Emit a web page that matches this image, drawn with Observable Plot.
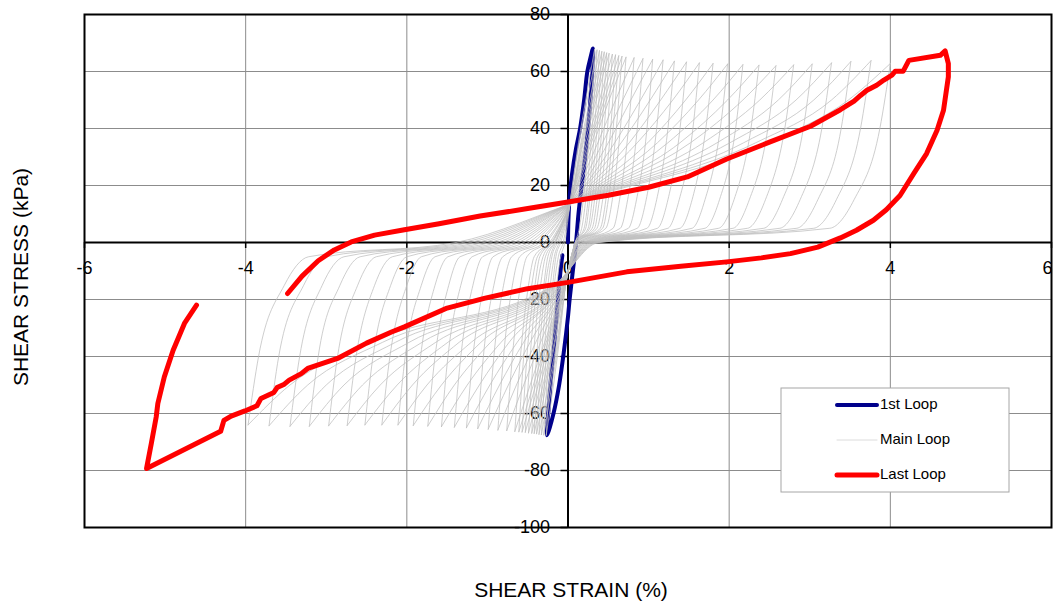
<!DOCTYPE html>
<html><head><meta charset="utf-8">
<script src="https://cdn.jsdelivr.net/npm/d3@7"></script>
<script src="https://cdn.jsdelivr.net/npm/@observablehq/plot@0.6"></script>
<style>
html,body{margin:0;padding:0;background:#fff;}
#chart{width:1053px;height:605px;}
</style></head><body><div id="chart"></div>
<script>
// ---- axis / text ----
const xTicks = [-6, -4, -2, 0, 2, 4, 6];
const yTicks = [-100, -80, -60, -40, -20, 0, 20, 40, 60, 80];
const xTitle = "SHEAR STRAIN (%)";
const yTitle = "SHEAR STRESS (kPa)";
const seriesNames = ["1st Loop", "Main Loop", "Last Loop"];

// ---- 1st loop ----
const firstLoopStrain = [0.00, 0.005, 0.02, 0.05, 0.10, 0.15, 0.20, 0.24, 0.28, 0.31,
  0.30, 0.27, 0.22, 0.17, 0.13, 0.10, 0.06, 0.02, 0.00, -0.05, -0.11, -0.18, -0.26,
  -0.24, -0.21, -0.17, -0.13, -0.10, -0.07];
const firstLoopStress = [0, 8, 16, 24, 33, 40, 50, 60, 65, 68.1,
  60, 47, 32, 20, 10, 0, -10, -20, -26, -38, -50, -60, -67.6,
  -58, -47, -35, -22, -12, -4.5];

// ---- main loops (one entry per cycle) ----
const mainPeakStrainPos = [0.33,0.36,0.39,0.42,0.45,0.48,0.51,0.55,0.59,0.63,0.67,0.72,0.82,0.93,1.05,1.18,1.32,1.47,1.63,1.80,1.98,2.17,2.37,2.58,2.80,3.03,3.27,3.51,3.76,4.00];
const mainPeakStressPos = [67.8,67.5,67.3,67,66.8,66.5,66.3,66,65.8,65.5,65.3,65,64.8,64.5,64.2,64,63.6,63.3,63,62.8,62.6,62.4,62.2,62,62.3,62.6,63,63.5,63.8,62.8];
const mainPeakStrainNeg = [-0.27,-0.30,-0.33,-0.36,-0.39,-0.42,-0.45,-0.49,-0.53,-0.57,-0.61,-0.66,-0.76,-0.87,-0.99,-1.12,-1.26,-1.41,-1.57,-1.74,-1.92,-2.11,-2.31,-2.52,-2.74,-2.97,-3.21,-3.45,-3.71,-3.97];
const mainPeakStressNeg = [-67.6,-67.5,-67.4,-67.3,-67.1,-67,-66.9,-66.8,-66.6,-66.5,-66.4,-66.3,-66,-65.8,-65.5,-65.3,-65,-64.8,-64.6,-64.4,-64.2,-64,-64,-64,-64.2,-64.3,-64.5,-64.5,-64.3,-64];
// loading branch: strain at these stress levels
const mainUpStress = [-40, -15, -5, 0, 15, 35, 50];
const mainUpStrain = [
  [-0.21,-0.14,-0.09,-0.04,0.03,0.13,0.22],
  [-0.24,-0.17,-0.12,-0.06,0.03,0.14,0.24],
  [-0.27,-0.19,-0.15,-0.09,0.04,0.16,0.27],
  [-0.30,-0.22,-0.17,-0.11,0.04,0.17,0.29],
  [-0.33,-0.25,-0.20,-0.13,0.04,0.18,0.31],
  [-0.36,-0.28,-0.22,-0.15,0.04,0.19,0.33],
  [-0.39,-0.30,-0.25,-0.16,0.04,0.21,0.35],
  [-0.43,-0.34,-0.28,-0.17,0.04,0.23,0.39],
  [-0.47,-0.38,-0.31,-0.19,0.04,0.25,0.42],
  [-0.51,-0.41,-0.35,-0.20,0.05,0.27,0.45],
  [-0.55,-0.45,-0.38,-0.21,0.05,0.29,0.48],
  [-0.59,-0.49,-0.42,-0.23,0.05,0.32,0.51],
  [-0.69,-0.59,-0.51,-0.27,0.05,0.37,0.59],
  [-0.80,-0.69,-0.60,-0.30,0.06,0.43,0.68],
  [-0.92,-0.80,-0.70,-0.35,0.06,0.50,0.78],
  [-1.05,-0.92,-0.81,-0.39,0.07,0.58,0.90],
  [-1.18,-1.04,-0.93,-0.44,0.07,0.66,1.02],
  [-1.33,-1.18,-1.06,-0.49,0.08,0.76,1.15],
  [-1.49,-1.33,-1.19,-0.55,0.09,0.86,1.30],
  [-1.65,-1.48,-1.34,-0.61,0.09,0.99,1.46],
  [-1.83,-1.65,-1.49,-0.67,0.10,1.11,1.62],
  [-2.02,-1.82,-1.65,-0.74,0.11,1.24,1.80],
  [-2.21,-2.00,-1.82,-0.81,0.11,1.39,1.98],
  [-2.42,-2.20,-2.00,-0.88,0.12,1.52,2.17],
  [-2.63,-2.40,-2.18,-0.96,0.13,1.68,2.38],
  [-2.86,-2.61,-2.38,-1.04,0.14,1.85,2.61],
  [-3.10,-2.83,-2.58,-1.12,0.15,2.01,2.83],
  [-3.33,-3.05,-2.78,-1.21,0.16,2.18,3.05],
  [-3.59,-3.28,-3.00,-1.30,0.17,2.33,3.27],
  [-3.84,-3.52,-3.22,-1.39,0.18,2.48,3.48]
];
// unloading branch: strain at these stress levels
const mainDownStress = [40, 15, 5, 0, -15, -35, -50];
const mainDownStrain = [
  [0.27,0.19,0.14,0.09,-0.03,-0.11,-0.18],
  [0.30,0.22,0.17,0.09,-0.03,-0.12,-0.20],
  [0.33,0.25,0.20,0.09,-0.03,-0.13,-0.22],
  [0.36,0.27,0.22,0.09,-0.03,-0.14,-0.24],
  [0.39,0.30,0.25,0.10,-0.04,-0.16,-0.27],
  [0.42,0.33,0.27,0.10,-0.04,-0.17,-0.29],
  [0.45,0.36,0.30,0.10,-0.04,-0.19,-0.31],
  [0.49,0.39,0.33,0.10,-0.04,-0.21,-0.34],
  [0.53,0.43,0.36,0.11,-0.04,-0.23,-0.37],
  [0.56,0.47,0.40,0.11,-0.04,-0.25,-0.40],
  [0.60,0.50,0.43,0.11,-0.04,-0.27,-0.43],
  [0.65,0.55,0.47,0.12,-0.05,-0.29,-0.47],
  [0.75,0.64,0.56,0.13,-0.05,-0.34,-0.55],
  [0.86,0.74,0.65,0.13,-0.05,-0.40,-0.64],
  [0.98,0.85,0.75,0.14,-0.06,-0.47,-0.74],
  [1.10,0.97,0.86,0.15,-0.06,-0.55,-0.85],
  [1.24,1.10,0.98,0.17,-0.07,-0.63,-0.97],
  [1.39,1.24,1.11,0.18,-0.08,-0.73,-1.10],
  [1.55,1.38,1.24,0.19,-0.08,-0.83,-1.25],
  [1.71,1.54,1.39,0.20,-0.09,-0.96,-1.41],
  [1.89,1.70,1.54,0.22,-0.10,-1.08,-1.57],
  [2.08,1.88,1.70,0.23,-0.10,-1.20,-1.75],
  [2.27,2.06,1.87,0.25,-0.11,-1.35,-1.93],
  [2.48,2.25,2.05,0.27,-0.12,-1.49,-2.12],
  [2.69,2.45,2.23,0.28,-0.13,-1.64,-2.33],
  [2.92,2.66,2.43,0.30,-0.14,-1.81,-2.55],
  [3.15,2.88,2.63,0.32,-0.15,-1.97,-2.78],
  [3.39,3.10,2.84,0.34,-0.16,-2.14,-3.00],
  [3.63,3.33,3.05,0.36,-0.17,-2.30,-3.23],
  [3.87,3.55,3.25,0.38,-0.18,-2.46,-3.45]
];

// ---- last loop ----
const lastLoopStrain = [-3.48,-3.30,-3.10,-2.90,-2.69,-2.40,-2.03,-1.60,-1.09,-0.50,0.00,0.50,1.00,1.48,1.97,2.50,3.01,3.38,3.55,3.63,3.71,3.83,3.92,4.02,4.06,4.16,4.23,4.62,4.68,
  4.72,4.72,4.66,4.58,4.45,4.29,4.12,3.95,3.79,3.58,3.38,3.10,2.76,2.40,1.97,1.40,0.73,0.00,-0.50,-1.04,-1.50,-2.03,-2.19,-2.50,-2.86,-3.23,-3.31,-3.46,-3.52,-3.61,-3.65,-3.81,-3.86,-4.01,-4.18,-4.27,-4.31,-5.23,
  -5.17,-5.11,-5.09,-5.01,-4.90,-4.76,-4.61];
const lastLoopStress = [-17.9,-11.8,-6.4,-2.6,0.2,2.6,4.5,6.6,9.3,11.9,14.2,16.6,19.4,23.0,29.3,35.2,40.8,46.6,49.6,51.6,53.4,55.2,57.0,58.7,60.1,60.1,63.9,65.7,67.2,
  62.8,58.1,46.4,39.4,31.2,24.2,16.5,11.5,7.8,4.3,1.6,-1.6,-3.9,-5.4,-6.8,-8.3,-10.3,-14.0,-16.2,-19.6,-23.0,-29.6,-31.4,-35.3,-40.7,-44.2,-46.0,-48.3,-49.7,-50.9,-52.6,-54.7,-57.3,-59.1,-60.9,-62.4,-66.2,-79.3,
  -70.4,-61.2,-56.5,-47.2,-37.8,-28.4,-22.0];

// ---- tables ----
const firstRows = firstLoopStrain.map((x, i) => ({strain: x, stress: firstLoopStress[i]}));
const lastRows = lastLoopStrain.map((x, i) => ({strain: x, stress: lastLoopStress[i]}));
const mainRows = [];
mainPeakStrainPos.forEach((a, k) => {
  const up = `${k}-up`, dn = `${k}-dn`;
  mainRows.push({id: up, strain: mainPeakStrainNeg[k], stress: mainPeakStressNeg[k]});
  mainUpStrain[k].forEach((x, j) => mainRows.push({id: up, strain: x, stress: mainUpStress[j]}));
  mainRows.push({id: up, strain: a, stress: mainPeakStressPos[k]});
  mainRows.push({id: dn, strain: a, stress: mainPeakStressPos[k]});
  mainDownStrain[k].forEach((x, j) => mainRows.push({id: dn, strain: x, stress: mainDownStress[j]}));
  mainRows.push({id: dn, strain: mainPeakStrainNeg[k], stress: mainPeakStressNeg[k]});
});

const FONT = "'Liberation Sans', Arial, sans-serif";
const innerTicks = xTicks.slice(0, -1);
const edgeTick = xTicks.slice(-1);
const plot = Plot.plot({
  width: 1053, height: 605,
  marginLeft: 84, marginRight: 2, marginTop: 14, marginBottom: 78,
  x: {domain: [-6, 6], axis: null},
  y: {domain: [-100, 80], axis: null},
  style: {fontFamily: FONT, background: "white", color: "black"},
  marks: [
    Plot.ruleX(xTicks, {x: d => d, stroke: "#8c8c8c", strokeWidth: 1}),
    Plot.ruleY(yTicks, {y: d => d, stroke: "#8c8c8c", strokeWidth: 1}),
    Plot.ruleY([0], {y: d => d, stroke: "black", strokeWidth: 2}),
    Plot.ruleX([0], {x: d => d, stroke: "black", strokeWidth: 2}),
    Plot.ruleX(xTicks, {x: d => d, y1: 0, y2: 0, insetBottom: -6, stroke: "black", strokeWidth: 1.5}),
    Plot.ruleY(yTicks, {y: d => d, x1: 0, x2: 0, insetLeft: -7, stroke: "black", strokeWidth: 1.5}),
    Plot.text(innerTicks, {x: d => d, y: 0, text: d => String(d), dy: 26, fontSize: 18, fill: "black"}),
    Plot.text(edgeTick, {x: d => d, y: 0, text: d => String(d), dy: 26, dx: 1, textAnchor: "end", fontSize: 18, fill: "black"}),
    Plot.text(yTicks, {x: 0, y: d => d, text: d => String(d), dx: -18, textAnchor: "end", fontSize: 18, fill: "black"}),
    Plot.line(firstRows, {x: "strain", y: "stress", stroke: "#00008b", strokeWidth: 4, curve: "catmull-rom"}),
    Plot.line(mainRows, {x: "strain", y: "stress", z: "id", stroke: "#bdbdbd", strokeWidth: 0.75, curve: "monotone-x"}),
    Plot.line(lastRows, {x: "strain", y: "stress", stroke: "#ff0000", strokeWidth: 5, curve: "linear"}),
    Plot.frame({stroke: "black", strokeWidth: 2})
  ]
});

const svg = d3.select(plot);
svg.append("text")
  .attr("transform", "translate(22,277) rotate(-90)")
  .attr("text-anchor", "middle").attr("dominant-baseline", "middle")
  .style("font-family", FONT).style("font-size", "21px").attr("fill", "black")
  .text(yTitle);
svg.append("text")
  .attr("x", 571).attr("y", 591)
  .attr("text-anchor", "middle").attr("dominant-baseline", "middle")
  .style("font-family", FONT).style("font-size", "21px").attr("fill", "black")
  .text(xTitle);

// legend
const lg = svg.append("g").attr("transform", "translate(781,388)");
lg.append("rect").attr("width", 228).attr("height", 104).attr("fill", "white").attr("stroke", "#a6a6a6").attr("stroke-width", 1);
const legendStyles = [
  {stroke: "#00008b", w: 4},
  {stroke: "#dcdcdc", w: 1},
  {stroke: "#ff0000", w: 5}
];
seriesNames.forEach((name, i) => {
  const yy = 17 + i * 35;
  lg.append("line").attr("x1", 56).attr("x2", 96).attr("y1", yy).attr("y2", yy)
    .attr("stroke", legendStyles[i].stroke).attr("stroke-width", legendStyles[i].w).attr("stroke-linecap", "round");
  lg.append("text").attr("x", 99).attr("y", yy).attr("text-anchor", "start").attr("dominant-baseline", "middle")
    .style("font-family", FONT).style("font-size", "15px").attr("fill", "black").text(name);
});

document.getElementById("chart").appendChild(plot);
</script>
</body></html>
